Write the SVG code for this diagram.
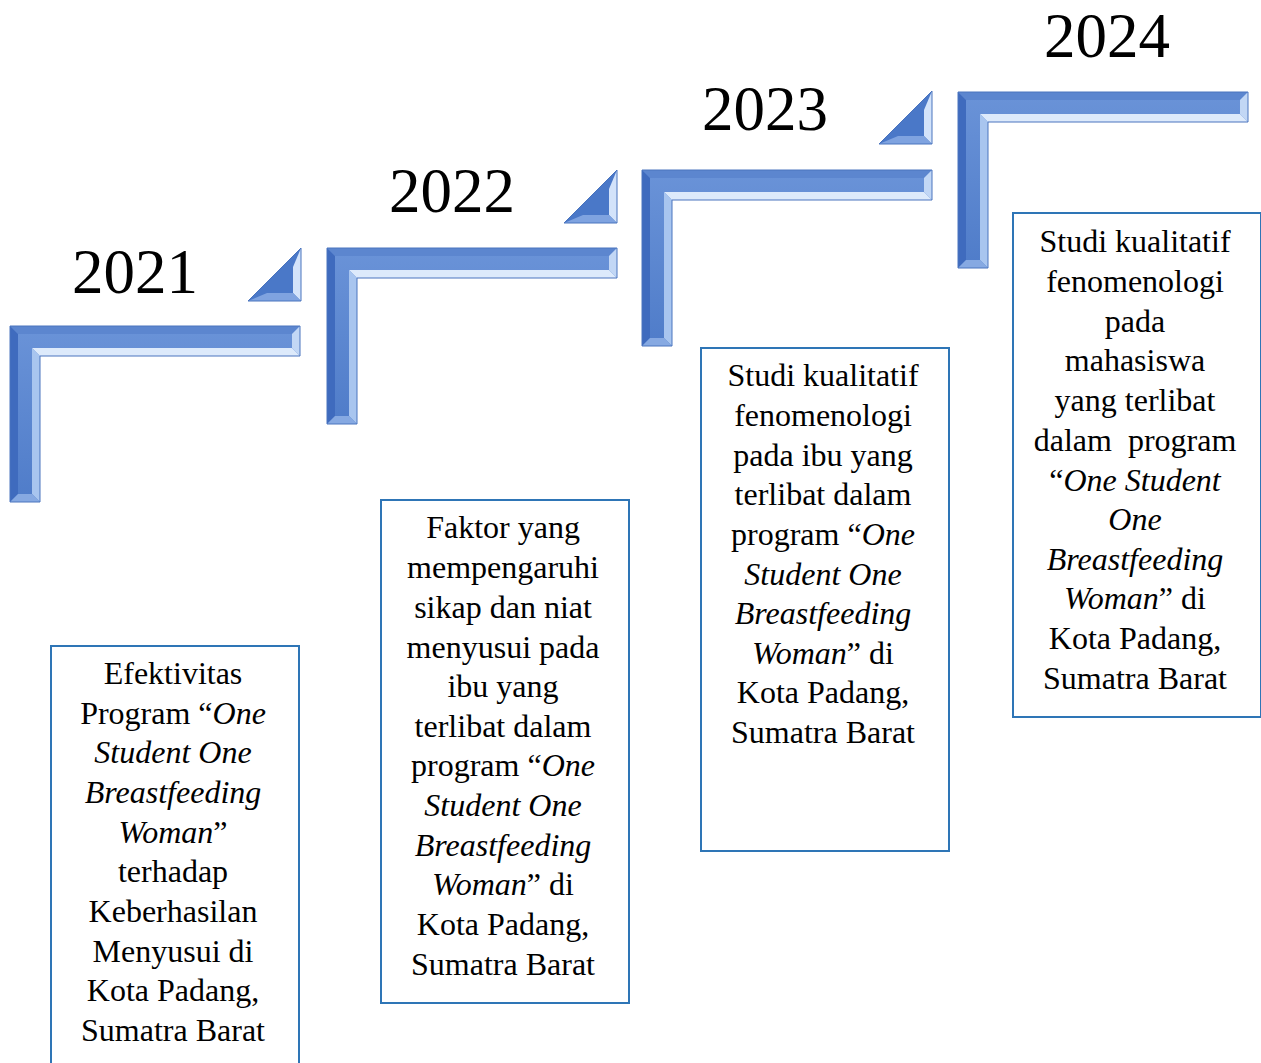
<svg xmlns="http://www.w3.org/2000/svg" width="1261" height="1063" viewBox="0 0 1261 1063">
<style>
.yr{font-family:"Liberation Serif","Times New Roman",serif;font-size:63px;fill:#000;text-anchor:middle}
.tx{font-family:"Liberation Serif","Times New Roman",serif;font-size:32px;fill:#000;text-anchor:middle}
.box{fill:#fff;stroke:#2E75B6;stroke-width:2}
</style>
<defs>
<linearGradient id="face" x1="0" y1="0" x2="0" y2="1">
<stop offset="0" stop-color="#6A93D8"/><stop offset="1" stop-color="#4F7CC9"/>
</linearGradient>
<g id="step">
<polygon points="0,0 290,0 290,30 30,30 30,176 0,176" fill="url(#face)"/>
<polygon points="0,0 290,0 282,8 8,8" fill="#5C86CF"/>
<polygon points="0,0 8,8 8,168 0,176" fill="#3F6BBE"/>
<polygon points="30,30 290,30 282,22 22,22" fill="#DDEAFB"/>
<polygon points="30,30 22,22 22,168 30,176" fill="#A8C5EF"/>
<polygon points="290,0 290,30 282,22 282,8" fill="#C2D7F5"/>
<polygon points="0,176 30,176 22,168 8,168" fill="#86A9E2"/>
<polygon points="0,0 290,0 290,30 30,30 30,176 0,176" fill="none" stroke="#4A74BE" stroke-width="1"/>
</g>
<g id="tri">
<polygon points="0,53 53,0 53,53" fill="#4A78C8"/>
<polygon points="53,0 53,53 45,45 45,19" fill="#D3E3FA"/>
<polygon points="0,53 53,53 45,45 19,45" fill="#7FA3E0"/>
<polygon points="0,53 53,0 53,53" fill="none" stroke="#4A74BE" stroke-width="1"/>
</g>
</defs>

<g id="connectors">
<use href="#step" x="10" y="326"/>
<use href="#tri" x="248" y="248"/>
<use href="#step" x="327" y="248"/>
<use href="#tri" x="564" y="170"/>
<use href="#step" x="642" y="170"/>
<use href="#tri" x="879" y="91"/>
<use href="#step" x="958" y="92"/>
</g>

<g id="year-2021"><text class="yr" x="135" y="293">2021</text></g>
<g id="year-2022"><text class="yr" x="452" y="212">2022</text></g>
<g id="year-2023"><text class="yr" x="765" y="130">2023</text></g>
<g id="year-2024"><text class="yr" x="1107" y="57">2024</text></g>

<g id="box-2021">
<rect class="box" x="51" y="646" width="248" height="420"/>
<text class="tx" x="173"><tspan x="173" y="684">Efektivitas</tspan><tspan x="173" y="724">Program “<tspan font-style="italic">One</tspan></tspan><tspan x="173" y="763" font-style="italic">Student One</tspan><tspan x="173" y="803" font-style="italic">Breastfeeding</tspan><tspan x="173" y="843"><tspan font-style="italic">Woman</tspan>”</tspan><tspan x="173" y="882">terhadap</tspan><tspan x="173" y="922">Keberhasilan</tspan><tspan x="173" y="962">Menyusui di</tspan><tspan x="173" y="1001">Kota Padang,</tspan><tspan x="173" y="1041">Sumatra Barat</tspan></text>
</g>

<g id="box-2022">
<rect class="box" x="381" y="500" width="248" height="503"/>
<text class="tx" x="503"><tspan x="503" y="538">Faktor yang</tspan><tspan x="503" y="578">mempengaruhi</tspan><tspan x="503" y="618">sikap dan niat</tspan><tspan x="503" y="658">menyusui pada</tspan><tspan x="503" y="697">ibu yang</tspan><tspan x="503" y="737">terlibat dalam</tspan><tspan x="503" y="776">program “<tspan font-style="italic">One</tspan></tspan><tspan x="503" y="816" font-style="italic">Student One</tspan><tspan x="503" y="856" font-style="italic">Breastfeeding</tspan><tspan x="503" y="895"><tspan font-style="italic">Woman</tspan>” di</tspan><tspan x="503" y="935">Kota Padang,</tspan><tspan x="503" y="975">Sumatra Barat</tspan></text>
</g>

<g id="box-2023">
<rect class="box" x="701" y="348" width="248" height="503"/>
<text class="tx" x="823"><tspan x="823" y="386">Studi kualitatif</tspan><tspan x="823" y="426">fenomenologi</tspan><tspan x="823" y="466">pada ibu yang</tspan><tspan x="823" y="505">terlibat dalam</tspan><tspan x="823" y="545">program “<tspan font-style="italic">One</tspan></tspan><tspan x="823" y="585" font-style="italic">Student One</tspan><tspan x="823" y="624" font-style="italic">Breastfeeding</tspan><tspan x="823" y="664"><tspan font-style="italic">Woman</tspan>” di</tspan><tspan x="823" y="703">Kota Padang,</tspan><tspan x="823" y="743">Sumatra Barat</tspan></text>
</g>

<g id="box-2024">
<rect class="box" x="1013" y="213" width="248" height="504"/>
<text class="tx" x="1135" xml:space="preserve"><tspan x="1135" y="252">Studi kualitatif</tspan><tspan x="1135" y="292">fenomenologi</tspan><tspan x="1135" y="332">pada</tspan><tspan x="1135" y="371">mahasiswa</tspan><tspan x="1135" y="411">yang terlibat</tspan><tspan x="1135" y="451">dalam  program</tspan><tspan x="1135" y="491">“<tspan font-style="italic">One Student</tspan></tspan><tspan x="1135" y="530" font-style="italic">One</tspan><tspan x="1135" y="570" font-style="italic">Breastfeeding</tspan><tspan x="1135" y="609"><tspan font-style="italic">Woman</tspan>” di</tspan><tspan x="1135" y="649">Kota Padang,</tspan><tspan x="1135" y="689">Sumatra Barat</tspan></text>
</g>
</svg>
